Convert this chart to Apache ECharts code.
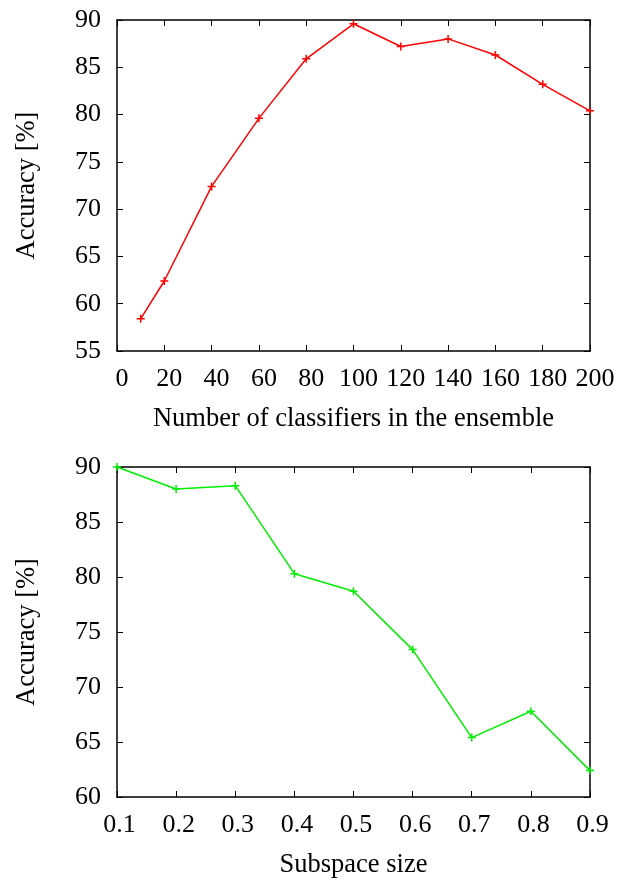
<!DOCTYPE html>
<html>
<head>
<meta charset="utf-8">
<script src="https://cdn.jsdelivr.net/npm/echarts@6/dist/echarts.min.js"></script>
<style>
html,body{margin:0;padding:0;background:#fff;}
#chart{width:628px;height:880px;}
</style>
</head>
<body>
<div id="chart"></div>
<script>
// Top panel: number of classifiers vs accuracy
const ensembleSizes = [10, 20, 40, 60, 80, 100, 120, 140, 160, 180, 200];
const ensembleAccuracy = [58.4, 62.4, 72.4, 79.6, 85.9, 89.6, 87.2, 88.0, 86.3, 83.2, 80.4];
// Bottom panel: subspace size vs accuracy
const subspaceSizes = [0.1, 0.2, 0.3, 0.4, 0.5, 0.6, 0.7, 0.8, 0.9];
const subspaceAccuracy = [90.0, 88.0, 88.3, 80.3, 78.7, 73.4, 65.4, 67.8, 62.4];

const xTitleTop = 'Number of classifiers in the ensemble';
const xTitleBottom = 'Subspace size';
const yTitle = 'Accuracy [%]';

const FONT = 'Liberation Serif';
const TICK_FS = 26;
const NAME_FS = 26.5;
const AXIS_COLOR = '#000';

const crossPath = 'path://M0,5L10,5M5,0L5,10';

function frameAxis(extra) {
  return Object.assign({
    type: 'value',
    axisLine: { show: true, onZero: false, lineStyle: { color: AXIS_COLOR, width: 1.5 } },
    axisTick: { show: true, inside: true, length: 6, lineStyle: { color: AXIS_COLOR, width: 1 } },
    splitLine: { show: false },
    axisLabel: { show: false }
  }, extra);
}
const labelStyle = { show: true, color: '#000', fontFamily: FONT, fontSize: TICK_FS };
const nameStyle = { color: '#000', fontFamily: FONT, fontSize: NAME_FS };

const chart = echarts.init(document.getElementById('chart'), null, { renderer: 'canvas' });
chart.setOption({
  animation: false,
  backgroundColor: '#fff',
  grid: [
    { left: 117, right: 38, top: 20, height: 331 },
    { left: 117, right: 38, top: 467, height: 331 }
  ],
  xAxis: [
    frameAxis({ gridIndex: 0, position: 'bottom', min: 0, max: 200, interval: 20,
      axisLabel: Object.assign({ margin: 15, padding: [0, 0, 0, 10] }, labelStyle),
      name: xTitleTop, nameLocation: 'middle', nameGap: 55, nameTextStyle: nameStyle }),
    frameAxis({ gridIndex: 0, position: 'top', min: 0, max: 200, interval: 20 }),
    frameAxis({ gridIndex: 1, position: 'bottom', min: 0.1, max: 0.9, interval: 0.1,
      axisLabel: Object.assign({ margin: 15, padding: [0, 0, 0, 5], formatter: v => v.toFixed(1) }, labelStyle),
      name: xTitleBottom, nameLocation: 'middle', nameGap: 55, nameTextStyle: nameStyle }),
    frameAxis({ gridIndex: 1, position: 'top', min: 0.1, max: 0.9, interval: 0.1 })
  ],
  yAxis: [
    frameAxis({ gridIndex: 0, position: 'left', min: 55, max: 90, interval: 5,
      axisLabel: Object.assign({ margin: 16 }, labelStyle),
      name: yTitle, nameLocation: 'middle', nameGap: 76, nameTextStyle: nameStyle }),
    frameAxis({ gridIndex: 0, position: 'right', min: 55, max: 90, interval: 5 }),
    frameAxis({ gridIndex: 1, position: 'left', min: 60, max: 90, interval: 5,
      axisLabel: Object.assign({ margin: 16 }, labelStyle),
      name: yTitle, nameLocation: 'middle', nameGap: 76, nameTextStyle: nameStyle }),
    frameAxis({ gridIndex: 1, position: 'right', min: 60, max: 90, interval: 5 })
  ],
  series: [
    {
      type: 'line', xAxisIndex: 0, yAxisIndex: 0,
      data: ensembleSizes.map((x, i) => [x, ensembleAccuracy[i]]),
      symbol: crossPath, symbolSize: 8, showSymbol: true,
      lineStyle: { color: '#ff0000', width: 1.5 },
      itemStyle: { color: '#ff0000', borderColor: '#ff0000', borderWidth: 1.5 },
      clip: false
    },
    {
      type: 'line', xAxisIndex: 2, yAxisIndex: 2,
      data: subspaceSizes.map((x, i) => [x, subspaceAccuracy[i]]),
      symbol: crossPath, symbolSize: 8, showSymbol: true,
      lineStyle: { color: '#00ee00', width: 1.5 },
      itemStyle: { color: '#00ee00', borderColor: '#00ee00', borderWidth: 1.5 },
      clip: false
    }
  ]
});
</script>
</body>
</html>
